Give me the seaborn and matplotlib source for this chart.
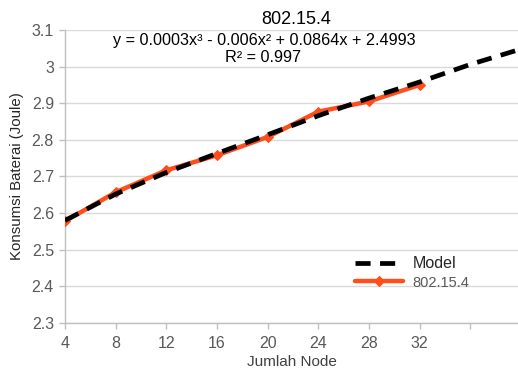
import numpy as np
import pandas as pd
import matplotlib
matplotlib.use("Agg")
import matplotlib.pyplot as plt
import seaborn as sns

# Data
nodes = [4, 8, 12, 16, 20, 24, 28, 32]
energy = [2.578, 2.657, 2.717, 2.758, 2.808, 2.877, 2.905, 2.950]
model_x = [4, 8, 12, 16, 20, 24, 28, 32, 36, 40]
model_y = [2.580, 2.652, 2.711, 2.763, 2.814, 2.866, 2.914, 2.958, 3.006, 3.048]
x_ticks = [4, 8, 12, 16, 20, 24, 28, 32, 36]
x_ticklabels = ["4", "8", "12", "16", "20", "24", "28", "32", ""]
y_ticks = [2.3, 2.4, 2.5, 2.6, 2.7, 2.8, 2.9, 3.0, 3.1]
y_ticklabels = ["2.3", "2.4", "2.5", "2.6", "2.7", "2.8", "2.9", "3", "3.1"]
title = "802.15.4"
equation = "y = 0.0003x³ - 0.006x² + 0.0864x + 2.4993"
r2 = "R² = 0.997"

sns.set_theme(style="white")
plt.rcParams['font.family'] = ['Liberation Sans', 'DejaVu Sans']

fig = plt.figure(figsize=(5.18, 3.69), dpi=100)
ax_left, ax_bottom_px, ax_top_px, ax_right = 65, 323, 30, 521
ax = fig.add_axes([ax_left/518, 1-ax_bottom_px/369, (ax_right-ax_left)/518, (ax_bottom_px-ax_top_px)/369])

df_model = pd.DataFrame({"x": model_x, "y": model_y})
df_data = pd.DataFrame({"x": nodes, "y": energy})

orange = "#FF4E1C"
sns.lineplot(data=df_data, x="x", y="y", ax=ax, color=orange, lw=3.2,
             marker="D", markersize=5, markeredgecolor=orange, label="802.15.4", zorder=3)
sns.lineplot(data=df_model, x="x", y="y", ax=ax, color="black", lw=3.4,
             dashes=False, label="Model", zorder=4)
ax.lines[-1].set_dashes([3.2, 2.0])

ax.set_xlim(4, 40)
ax.set_ylim(2.3, 3.1)
ax.set_xticks(x_ticks)
ax.set_xticklabels(x_ticklabels)
ax.set_yticks(y_ticks)
ax.set_yticklabels(y_ticklabels)
ax.grid(axis="y", color="#D9D9D9", lw=1)
ax.grid(axis="x", visible=False)
for s in ["top", "right"]:
    ax.spines[s].set_visible(False)
for s in ["left", "bottom"]:
    ax.spines[s].set_color("#BFBFBF")
    ax.spines[s].set_linewidth(1)
ax.tick_params(axis="both", which="major", length=4, width=1, color="#BFBFBF",
               labelsize=11.5, labelcolor="#595959", direction="out", bottom=True, left=True)
ax.tick_params(axis="x", pad=5)
ax.tick_params(axis="y", pad=4)

ax.set_xlabel("Jumlah Node", fontsize=11, color="#404040")
ax.set_ylabel("Konsumsi Baterai (Joule)", fontsize=10.8, color="#262626")
h_px = ax_bottom_px - ax_top_px
w_px = ax_right - ax_left
ax.xaxis.set_label_coords((292 - ax_left)/w_px, -(362 - ax_bottom_px)/h_px)
ax.yaxis.set_label_coords((17 - ax_left)/w_px, 0.5)
ax.xaxis.label.set_va("center")
ax.yaxis.label.set_va("center")

fig.text(296/518, 1-20/369, title, ha="center", va="center", fontsize=13, color="black")
fig.text(264/518, 1-40/369, equation, ha="center", va="center", fontsize=11.7, color="black")
fig.text(263/518, 1-57/369, r2, ha="center", va="center", fontsize=11.7, color="black")

handles, labels = ax.get_legend_handles_labels()
order = [labels.index("Model"), labels.index("802.15.4")]
leg = ax.legend([handles[i] for i in order], [labels[i] for i in order],
                loc="center", bbox_to_anchor=(412/518, 1-273/369), bbox_transform=fig.transFigure,
                frameon=False, fontsize=11.5, handlelength=3.0, handletextpad=0.6,
                labelspacing=0.25)
leg.get_texts()[1].set_color("#595959")
leg.get_texts()[1].set_fontsize(10.5)

fig.savefig("out.png", dpi=100)
